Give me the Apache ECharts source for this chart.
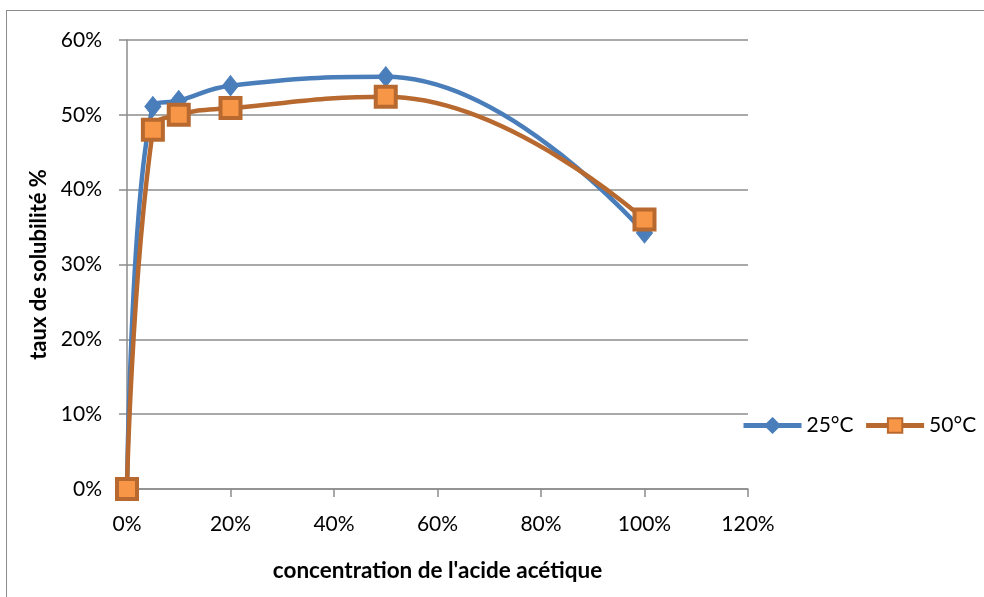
<!DOCTYPE html>
<html><head><meta charset="utf-8">
<script src="https://cdn.jsdelivr.net/npm/echarts@6/dist/echarts.min.js"></script>
<style>html,body{margin:0;padding:0;background:#fff;overflow:hidden}#c{width:984px;height:597px}
#frame{position:absolute;left:6px;top:10px;width:1000px;height:600px;border:1.5px solid #8c8c8c;box-sizing:border-box;pointer-events:none}</style>
</head><body><div id="frame"></div><div id="c"></div>
<script>
const concentrations = [0, 5, 10, 20, 50, 100];
const sol25 = [0, 51.1, 51.9, 53.9, 55.1, 34.2];
const sol50 = [0, 48.0, 50.0, 50.9, 52.4, 36.0];
const seriesNames = ['25°C', '50°C'];
const xName = "concentration de l'acide acétique";
const yName = 'taux de solubilité %';
const font = 'Lato, "Open Sans", sans-serif';
const chart = echarts.init(document.getElementById('c'));
chart.setOption({
  animation: false,
  grid: {left: 127, right: 236, top: 40, bottom: 108},
  legend: {
    left: 736, top: 410, orient: 'horizontal', itemWidth: 58, itemHeight: 18, itemGap: 10,
    lineStyle: {width: 5},
    textStyle: {fontFamily: font, fontSize: 21, color: '#000'},
    data: seriesNames
  },
  xAxis: {
    type: 'value', min: 0, max: 120, interval: 20,
    name: xName, nameLocation: 'middle', nameGap: 70,
    nameTextStyle: {fontFamily: font, fontSize: 22.5, fontWeight: 'bold', color: '#000'},
    axisLabel: {formatter: v => v + '%', fontFamily: font, fontSize: 21, color: '#000', margin: 25},
    axisLine: {lineStyle: {color: '#8c8c8c', width: 1.5}},
    axisTick: {show: true, length: 8, lineStyle: {color: '#8c8c8c', width: 1.5}},
    splitLine: {show: false}
  },
  yAxis: {
    type: 'value', min: 0, max: 60, interval: 10,
    name: yName, nameLocation: 'middle', nameGap: 74, nameRotate: 90,
    nameTextStyle: {fontFamily: font, fontSize: 22, fontWeight: 'bold', color: '#000'},
    axisLabel: {formatter: v => v + '%', fontFamily: font, fontSize: 21, color: '#000', margin: 25},
    axisLine: {show: true, lineStyle: {color: '#8c8c8c', width: 1.5}},
    axisTick: {show: true, length: 8, lineStyle: {color: '#8c8c8c', width: 1.5}},
    splitLine: {show: true, lineStyle: {color: '#8c8c8c', width: 1.5}}
  },
  series: [
    {
      name: seriesNames[0], type: 'line', smooth: 0.45,
      data: concentrations.map((c, i) => [c, sol25[i]]),
      symbol: 'diamond', symbolSize: [16, 20],
      lineStyle: {color: '#4a7ebb', width: 4.5},
      itemStyle: {color: '#4a7ebb', borderColor: '#4a7ebb', borderWidth: 1}
    },
    {
      name: seriesNames[1], type: 'line', smooth: 0.45,
      data: concentrations.map((c, i) => [c, sol50[i]]),
      symbol: 'rect', symbolSize: 20,
      lineStyle: {color: '#b8692f', width: 4.5},
      itemStyle: {color: '#f79646', borderColor: '#b8692f', borderWidth: 4, borderRadius: 3}
    }
  ]
});
</script></body></html>
